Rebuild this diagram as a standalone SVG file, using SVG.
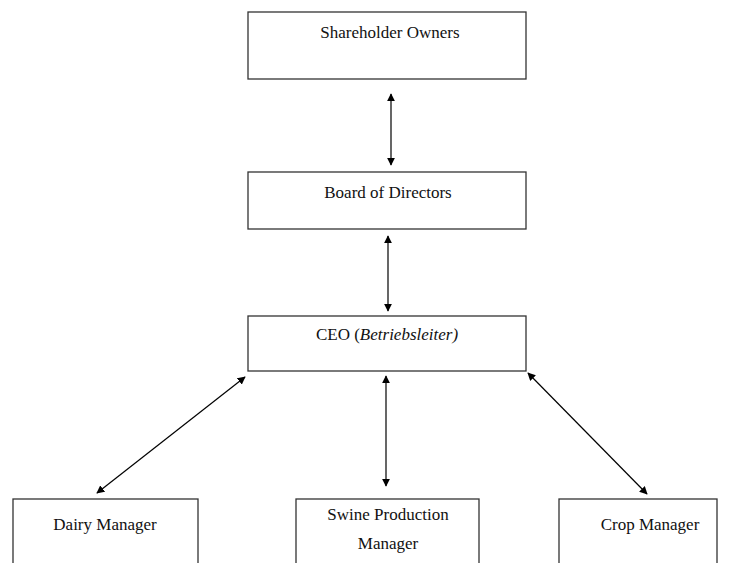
<svg xmlns="http://www.w3.org/2000/svg" width="729" height="563" viewBox="0 0 729 563">
<style>
.box{fill:#fff;stroke:#333;stroke-width:1.3}
.t{font-family:"Liberation Serif","DejaVu Serif",serif;font-size:17px;fill:#111;text-anchor:middle}
.c{stroke:#000;stroke-width:1.2;fill:none;marker-start:url(#a);marker-end:url(#a)}
</style>
<defs>
<marker id="a" viewBox="0 0 10 10" refX="9" refY="5" markerWidth="8" markerHeight="8" markerUnits="userSpaceOnUse" orient="auto-start-reverse">
<path d="M0,0 L10,5 L0,10 z" fill="#000"/>
</marker>
</defs>
<g id="shareholders"><rect class="box" x="248" y="12" width="278" height="67"/><text class="t" x="390" y="38">Shareholder Owners</text></g>
<g id="board"><rect class="box" x="248" y="172" width="278" height="57"/><text class="t" x="388" y="198">Board of Directors</text></g>
<g id="ceo"><rect class="box" x="248" y="316" width="278" height="55"/><text class="t" x="387" y="340">CEO (<tspan font-style="italic">Betriebsleiter)</tspan></text></g>
<g id="dairy"><rect class="box" x="13" y="499" width="185" height="80"/><text class="t" x="105" y="530">Dairy Manager</text></g>
<g id="swine"><rect class="box" x="296" y="499" width="183" height="80"/><text class="t" x="388" y="520">Swine Production</text><text class="t" x="388" y="549">Manager</text></g>
<g id="crop"><rect class="box" x="559" y="499" width="158" height="80"/><text class="t" x="650" y="530">Crop Manager</text></g>
<g id="connectors">
<line class="c" x1="391" y1="94" x2="391" y2="165"/>
<line class="c" x1="388" y1="236" x2="388" y2="311"/>
<line class="c" x1="386" y1="376" x2="386" y2="486"/>
<line class="c" x1="245" y1="377" x2="97" y2="493"/>
<line class="c" x1="528" y1="373" x2="647" y2="494"/>
</g>
</svg>
